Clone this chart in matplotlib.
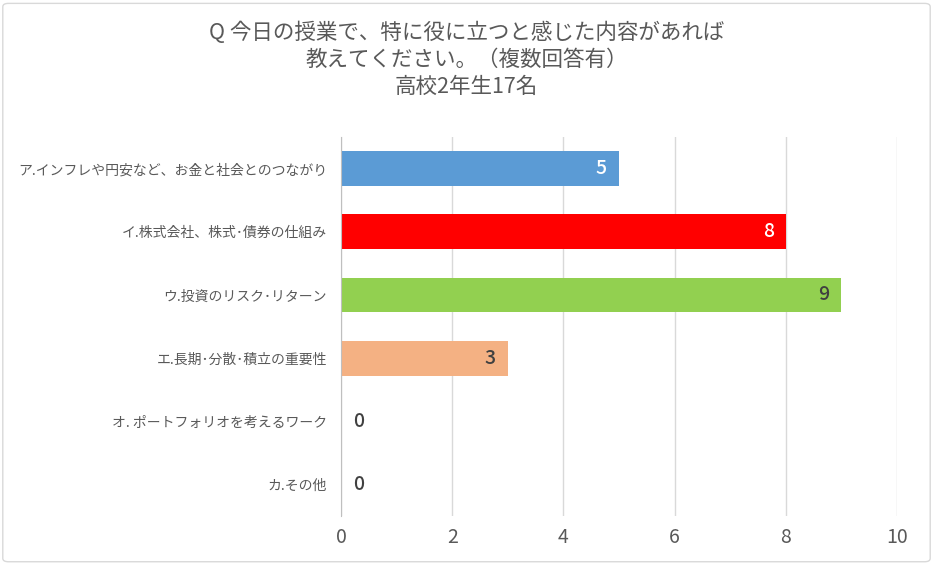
import matplotlib.pyplot as plt
from matplotlib.patches import FancyBboxPatch

plt.rcParams['font.family'] = ['Noto Sans CJK JP', 'DejaVu Sans']

categories = [
    'ア.インフレや円安など、お金と社会とのつながり',
    'イ.株式会社、株式･債券の仕組み',
    'ウ.投資のリスク･リターン',
    'エ.長期･分散･積立の重要性',
    'オ. ポートフォリオを考えるワーク',
    'カ.その他',
]
counts = [5, 8, 9, 3, 0, 0]
colors = ['#5B9BD5', '#FF0000', '#92D050', '#F4B183', '#A5A5A5', '#A5A5A5']
label_colors = ['white', 'white', '#404040', '#404040', '#404040', '#404040']
title = 'Q 今日の授業で、特に役に立つと感じた内容があれば\n教えてください。（複数回答有）\n高校2年生17名'

fig = plt.figure(figsize=(9.33, 5.64), dpi=100)
ax = fig.add_axes([0.3655, 0.085, 0.596, 0.672])

# outer frame
fig.patches.append(FancyBboxPatch((0.003, 0.004), 0.994, 0.99, boxstyle='round,pad=0,rounding_size=0.006',
                                  transform=fig.transFigure, fill=False, edgecolor='#D9D9D9', linewidth=1))

y = list(range(len(categories)))
ax.barh(y, counts, height=0.55, color=colors, zorder=3)

# value labels
for i, v in enumerate(counts):
    if v > 0:
        ax.text(v - 0.22, i, str(v), ha='right', va='center', fontsize=14, fontweight='medium',
                color=label_colors[i], zorder=4)
    else:
        ax.text(0.22, i, str(v), ha='left', va='center', fontsize=14, fontweight='medium',
                color=label_colors[i], zorder=4)

ax.set_ylim(len(categories) - 0.5, -0.5)
ax.set_xlim(0, 10)
ax.set_xticks([0, 2, 4, 6, 8, 10])
ax.set_yticks(y)
ax.set_yticklabels(categories, fontsize=10, color='#595959')
ax.tick_params(axis='x', labelsize=14, colors='#595959', length=0, pad=8)
ax.tick_params(axis='y', length=0, pad=10)
ax.xaxis.grid(True, color='#D9D9D9', linewidth=1, zorder=0)
for s in ['top', 'right', 'bottom']:
    ax.spines[s].set_visible(False)
ax.spines['left'].set_color('#BFBFBF')
ax.spines['left'].set_zorder(5)

fig.text(0.5, 0.962, title, ha='center', va='top', fontsize=15.5, color='#595959', linespacing=1.3)

fig.savefig('out.png', dpi=100)
